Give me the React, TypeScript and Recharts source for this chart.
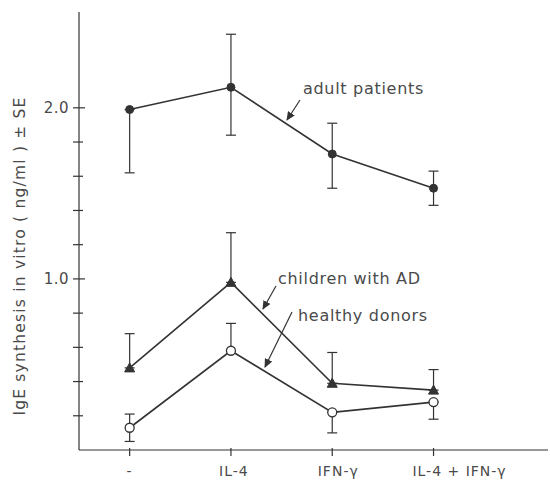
import React from 'react';
import { ComposedChart, Line, XAxis, YAxis, ErrorBar, Customized } from 'recharts';

const categories = ['-', 'IL-4', 'IFN-γ', 'IL-4 + IFN-γ'];
const adultValues = [1.99, 2.12, 1.73, 1.53];
const adultErrors = [[0.37, 0], [0.28, 0.31], [0.2, 0.18], [0.1, 0.1]];
const childValues = [0.48, 0.98, 0.39, 0.35];
const childErrors = [[0, 0.2], [0, 0.29], [0, 0.18], [0, 0.12]];
const healthyValues = [0.13, 0.58, 0.22, 0.28];
const healthyErrors = [[0.08, 0.08], [0, 0.16], [0.12, 0], [0.1, 0]];
const yTicks = [0.2, 0.4, 0.6, 0.8, 1.0, 1.2, 1.4, 1.6, 1.8, 2.0];
const yTickLabels: Record<string, string> = { '1': '1.0', '2': '2.0' };
const xTicks = [0, 1, 2, 3];

const data = categories.map((c, i) => ({
  x: i,
  adult: adultValues[i],
  adultErr: adultErrors[i],
  child: childValues[i],
  childErr: childErrors[i],
  healthy: healthyValues[i],
  healthyErr: healthyErrors[i],
}));

const INK = '#333';
const TEXT = '#4a4a4a';
const FONT = '"DejaVu Sans", sans-serif';
const X_LABEL_SHIFT = [0, 3, 6, 26];

const YTick = (props: any) => {
  const { x, y, payload } = props;
  const lab = yTickLabels[String(payload.value)];
  return (
    <g>
      <line x1={x - 6} x2={x + (lab ? 6 : 4)} y1={y} y2={y} stroke={INK} strokeWidth={1.2} />
      {lab && (
        <text x={x - 10} y={y} dy={5} textAnchor="end" fontSize={15} fill={TEXT} fontFamily={FONT} letterSpacing={0.5}>
          {lab}
        </text>
      )}
    </g>
  );
};

const XTick = (props: any) => {
  const { x, y, payload } = props;
  return (
    <g>
      <line x1={x} x2={x} y1={y - 2} y2={y + 6} stroke={INK} strokeWidth={1.2} />
      <text x={x + X_LABEL_SHIFT[payload.value]} y={y + 26} textAnchor="middle" fontSize={14} fill={TEXT} fontFamily={FONT} letterSpacing={1}>
        {categories[payload.value]}
      </text>
    </g>
  );
};

const Triangle = (props: any) => {
  const { cx, cy } = props;
  if (cx == null || cy == null) return null;
  return <polygon points={`${cx},${cy - 5} ${cx - 5},${cy + 4} ${cx + 5},${cy + 4}`} fill={INK} stroke={INK} />;
};

const Annotations = () => (
  <g fontFamily={FONT} fill={TEXT}>
    <defs>
      <marker id="ah" markerWidth="9" markerHeight="8" refX="8" refY="4" orient="auto" markerUnits="userSpaceOnUse">
        <path d="M0,0 L9,4 L0,8 z" fill={INK} />
      </marker>
    </defs>
    <text x={20} y={256} transform="rotate(-90, 20, 256)" textAnchor="middle" dominantBaseline="central" fontSize={15.5} letterSpacing={1.2} fill={TEXT}>
      IgE  synthesis in vitro  ( ng/ml ) ± SE
    </text>
    <text x={303} y={94} fontSize={16} letterSpacing={0.7} fill={TEXT}>adult patients</text>
    <line x1={300} y1={100} x2={287} y2={120} stroke={INK} strokeWidth={1.2} markerEnd="url(#ah)" />
    <text x={278} y={284} fontSize={16} letterSpacing={0.7} fill={TEXT}>children with AD</text>
    <line x1={276} y1={286} x2={263} y2={309} stroke={INK} strokeWidth={1.2} markerEnd="url(#ah)" />
    <text x={298} y={321} fontSize={16} letterSpacing={0.7} fill={TEXT}>healthy donors</text>
    <line x1={292} y1={312} x2={265} y2={367} stroke={INK} strokeWidth={1.2} markerEnd="url(#ah)" />
  </g>
);

export default function App() {
  return (
    <div style={{ position: 'absolute', left: 0, top: 0, width: 550, height: 484, background: '#fff' }}>
      <ComposedChart width={550} height={484} data={data} margin={{ top: 12, right: 2, bottom: 4, left: 19 }}>
        <XAxis
          dataKey="x"
          type="number"
          domain={[-0.5, 4.13]}
          ticks={xTicks}
          interval={0}
          allowDataOverflow
          height={30}
          tickSize={0}
          tickMargin={0}
          tickLine={false}
          tick={<XTick />}
          axisLine={{ stroke: INK, strokeWidth: 1.2 }}
        />
        <YAxis
          type="number"
          domain={[0, 2.56]}
          ticks={yTicks}
          interval={0}
          allowDataOverflow
          width={60}
          tickSize={0}
          tickMargin={0}
          tickLine={false}
          tick={<YTick />}
          axisLine={{ stroke: INK, strokeWidth: 1.2 }}
        />
        <Line
          dataKey="adult"
          stroke={INK}
          strokeWidth={1.6}
          isAnimationActive={false}
          dot={{ r: 4, fill: INK, stroke: INK, strokeWidth: 1 }}
          activeDot={false}
        >
          <ErrorBar dataKey="adultErr" width={5} stroke={INK} strokeWidth={1.2} direction="y" isAnimationActive={false} />
        </Line>
        <Line
          dataKey="child"
          stroke={INK}
          strokeWidth={1.6}
          isAnimationActive={false}
          dot={<Triangle />}
          activeDot={false}
        >
          <ErrorBar dataKey="childErr" width={5} stroke={INK} strokeWidth={1.2} direction="y" isAnimationActive={false} />
        </Line>
        <Line
          dataKey="healthy"
          stroke={INK}
          strokeWidth={1.6}
          isAnimationActive={false}
          dot={{ r: 4.5, fill: '#fff', stroke: INK, strokeWidth: 1.3 }}
          activeDot={false}
        >
          <ErrorBar dataKey="healthyErr" width={5} stroke={INK} strokeWidth={1.2} direction="y" isAnimationActive={false} />
        </Line>
        <Customized component={<Annotations />} />
      </ComposedChart>
    </div>
  );
}
